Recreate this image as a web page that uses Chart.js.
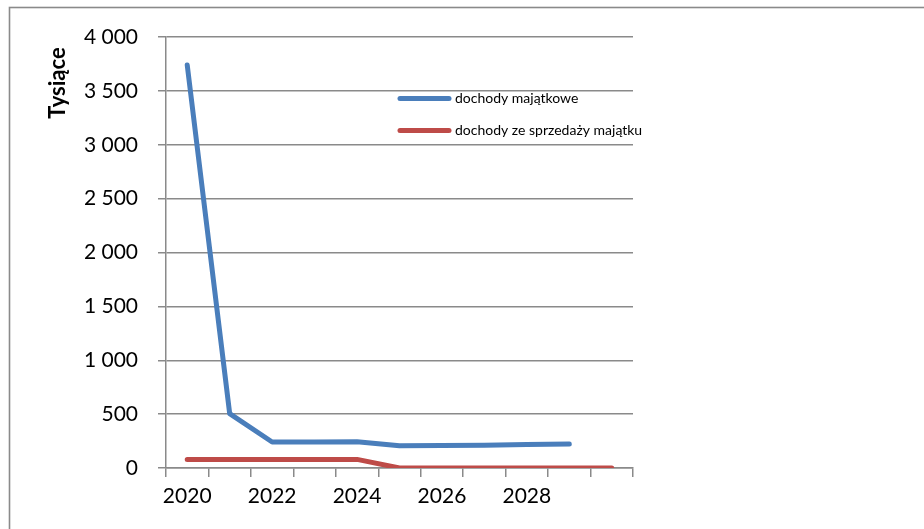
<!DOCTYPE html>
<html>
<head>
<meta charset="utf-8">
<script src="https://cdn.jsdelivr.net/npm/chart.js@4"></script>
<style>
html,body{margin:0;padding:0;background:#fff;}
#wrap{position:relative;width:924px;height:529px;overflow:hidden;}
</style>
</head>
<body>
<div id="wrap"><canvas id="c" width="924" height="529"></canvas></div>
<script>
const years = ['2020','2021','2022','2023','2024','2025','2026','2027','2028','2029','2030'];
const dochodyMajatkowe = [3740, 505, 241, 241, 244, 207, 209, 212, 217, 222, null];
const dochodySprzedazy = [80, 80, 80, 80, 80, 0, 0, 0, 0, 0, 0];
const seriesNames = ['dochody majątkowe', 'dochody ze sprzedaży majątku'];
const seriesColors = ['#4A7EBB', '#BE4B48'];
const yAxisTitle = 'Tysiące';

const GRID = '#8a8a8a';
const FONT = 'Lato, "Liberation Sans", sans-serif';

function fmt(v){
  return String(v).replace(/\B(?=(\d{3})+(?!\d))/g, '\u00a0');
}

const framePlugin = {
  id: 'frame',
  beforeDraw(chart){
    const ctx = chart.ctx;
    ctx.save();
    ctx.strokeStyle = GRID;
    ctx.lineWidth = 1.6;
    ctx.strokeRect(9.5, 7.5, 2000, 2000);
    ctx.restore();
  },
  afterDraw(chart){
    const ctx = chart.ctx;
    const ds = chart.data.datasets;
    const rows = [98.5, 130.5];
    ctx.save();
    ctx.font = '14px ' + FONT;
    ctx.textBaseline = 'middle';
    ctx.textAlign = 'left';
    ds.forEach((d, i) => {
      ctx.strokeStyle = d.borderColor;
      ctx.lineWidth = 5;
      ctx.lineCap = 'round';
      ctx.beginPath();
      ctx.moveTo(400, rows[i]);
      ctx.lineTo(449, rows[i]);
      ctx.stroke();
      ctx.fillStyle = '#000';
      ctx.fillText(d.label, 455, rows[i]);
    });
    // y axis title (placed near the top, as in the original)
    ctx.translate(58, 83);
    ctx.rotate(-Math.PI / 2);
    ctx.font = 'bold 22px ' + FONT;
    ctx.textAlign = 'center';
    ctx.fillText(yAxisTitle, 0, 0);
    ctx.restore();
  }
};

new Chart(document.getElementById('c'), {
  type: 'line',
  data: {
    labels: years,
    datasets: [
      {label: seriesNames[0], data: dochodyMajatkowe, borderColor: seriesColors[0], backgroundColor: seriesColors[0]},
      {label: seriesNames[1], data: dochodySprzedazy, borderColor: seriesColors[1], backgroundColor: seriesColors[1]}
    ]
  },
  options: {
    responsive: false,
    animation: false,
    spanGaps: false,
    elements: {
      line: {borderWidth: 5, tension: 0, borderCapStyle: 'round', borderJoinStyle: 'round'},
      point: {radius: 0, hoverRadius: 0}
    },
    layout: {padding: {left: 48, top: 37, right: 291, bottom: 0}},
    plugins: {legend: {display: false}, tooltip: {enabled: false}},
    scales: {
      x: {
        type: 'category',
        offset: true,
        grid: {display: true, drawOnChartArea: false, drawTicks: true, tickLength: 9, color: GRID, lineWidth: 1.5, offset: true},
        border: {display: true, color: GRID, width: 1.5},
        ticks: {
          autoSkip: false, maxRotation: 0, minRotation: 0, padding: 7,
          color: '#000', font: {family: FONT, size: 21},
          callback: function(v, i){ return (i % 2 === 0 && i < 10) ? this.getLabelForValue(v) : ''; }
        },
        afterFit(s){ s.height = 61; }
      },
      y: {
        min: 0, max: 4000,
        grid: {color: GRID, lineWidth: 1.5, tickLength: 8, drawTicks: true},
        border: {display: true, color: GRID, width: 1.5},
        ticks: {stepSize: 500, padding: 20, color: '#000', font: {family: FONT, size: 21}, callback: v => fmt(v)},
        title: {display: false, text: yAxisTitle},
        afterFit(s){ s.width = 118; }
      }
    }
  },
  plugins: [framePlugin]
});
</script>
</body>
</html>
